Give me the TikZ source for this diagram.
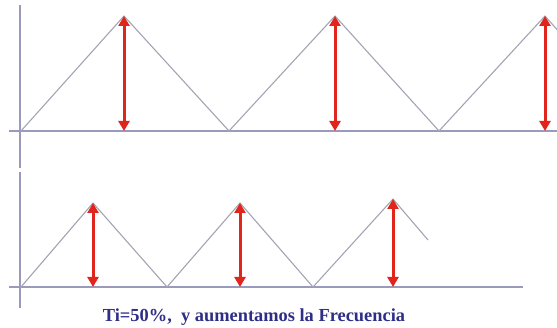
\documentclass[tikz,border=0pt]{standalone}
\usepackage{fontspec}
\setmainfont{Liberation Serif}
\usetikzlibrary{arrows.meta}

\definecolor{ejecol}{HTML}{9A9ABD}
\definecolor{ondacol}{HTML}{A3A3B3}
\definecolor{flecol}{HTML}{E0261C}
\definecolor{textcol}{HTML}{2E2E86}

\begin{document}
\begin{tikzpicture}[x=1pt,y=-1pt,
    eje/.style={ejecol, line width=1.3pt},
    onda/.style={ondacol, line width=1.1pt, line join=round},
    amplitud/.style={flecol, line width=3pt, {Triangle[length=10pt,width=11pt]}-{Triangle[length=10pt,width=11pt]}}]
    \useasboundingbox (0,0) rectangle (557,328);
    \clip (0,0) rectangle (557,328);

    % Upper signal (low frequency)
    \draw[eje] (20,5) -- (20,168);
    \draw[eje] (9,131) -- (557,131);
    \draw[onda] (21,131) -- (124,16) -- (229,131) -- (335,16) -- (439,131) -- (545,16) -- (560,33);
    \foreach \x in {124,335,545} {
        \draw[amplitud] (\x,16) -- (\x,131);
    }

    % Lower signal (higher frequency)
    \draw[eje] (20,172) -- (20,308);
    \draw[eje] (9,287) -- (523,287);
    \draw[onda] (21,287) -- (93,203) -- (167,287) -- (240,203) -- (313,287) -- (393,199) -- (428,240);
    \foreach \x/\y in {93/203,240/203,393/199} {
        \draw[amplitud] (\x,\y) -- (\x,287);
    }

    % Caption
    \node[textcol, font=\bfseries\fontsize{18.4}{20}\selectfont, anchor=base] (leyenda) at (254,322) {Ti=50\%,\ \ y aumentamos la Frecuencia};
\end{tikzpicture}
\end{document}
